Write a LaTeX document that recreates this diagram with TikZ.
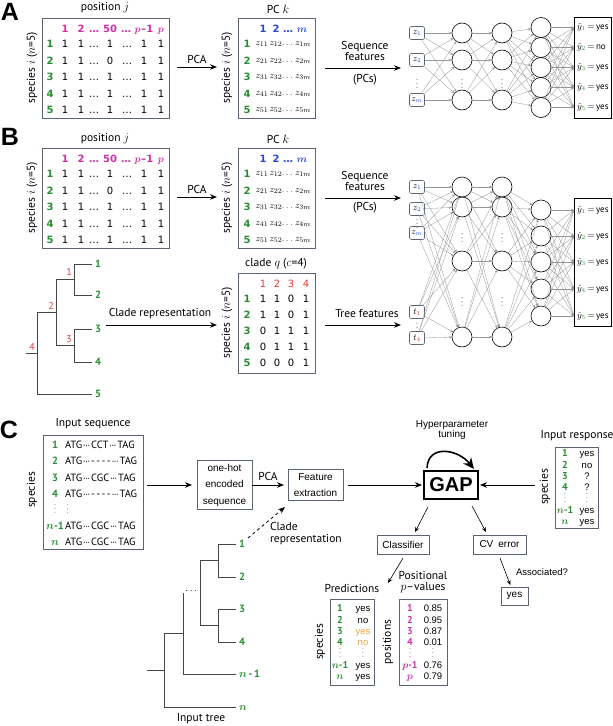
\documentclass[tikz,border=0pt]{standalone}
\usepackage{amsmath}
\usepackage{bm}
\usepackage{fontspec}
\setmainfont{PT Sans}
\newfontfamily\arialfont{Liberation Sans}
\newfontfamily\verafont{DejaVu Sans}
\usetikzlibrary{arrows.meta}

\definecolor{spgreen}{RGB}{40,140,50}
\definecolor{posmag}{RGB}{205,50,165}
\definecolor{pcblue}{RGB}{40,70,215}
\definecolor{cladered}{RGB}{225,60,60}
\definecolor{predorange}{RGB}{235,165,55}
\definecolor{boxgray}{RGB}{90,100,115}
\definecolor{netgray}{RGB}{150,150,150}
\definecolor{treegray}{RGB}{70,70,70}

% compact centred ellipsis used inside the sequences
\newcommand{\sdots}{\kern0.8pt${\cdotp}\kern-0.9pt{\cdotp}\kern-0.9pt{\cdotp}$\kern0.8pt}
% small vertical ellipsis for list rows
\newcommand{\sv}{{\fontsize{6}{6}\selectfont$\vdots$}}

% species x positions binary matrix: #1 node name, #2 top edge
\newcommand{\sitematrix}[2]{%
  \node[frame,minimum width=127pt,minimum height=100pt] (#1) at (42,#2) {};
  \foreach \x/\cellt in {65/1,81/2,94/…,110/50,126/…,144/{$\bm{p}$\kern0.4pt–\kern0.2pt1},161/{$\bm{p}$}}
    \node[cell,bnum,text=posmag] at (\x,#2+11) {\cellt};
  \foreach \cellv [count=\k] in {1,0,1,1,1} {
    \pgfmathsetmacro\yy{#2+26+16.5*(\k-1)}
    \node[cell,rowlab] at (50,\yy) {\k};
    \foreach \x/\cellt in {65/1,81/1,94/…,110/\cellv,127/…,144/1,161/1}
      \node[cell,num] at (\x,\yy) {\cellt};
  }%
}
% species x principal components matrix: #1 node name, #2 top edge
\newcommand{\pcmatrix}[2]{%
  \node[frame,minimum width=77pt,minimum height=100pt] (#1) at (238,#2) {};
  \foreach \x/\cellt in {263/1,276/2,288/…,302/{$\bm{m}$}}
    \node[cell,bnum,text=pcblue] at (\x,#2+11) {\cellt};
  \foreach \k in {1,...,5} {
    \pgfmathsetmacro\yy{#2+26+16.5*(\k-1)}
    \node[cell,rowlab] at (247,\yy) {\k};
    \node[zent] at (262,\yy) {$z_{\k1}$};
    \node[zent] at (276,\yy) {$z_{\k2}$};
    \node[zent] at (288,\yy) {$\dots$};
    \node[zent] at (303,\yy) {$z_{\k m}$};
  }%
}

\begin{document}
\begin{tikzpicture}[x=1pt,y=-1pt,
  every node/.style={inner sep=0pt,outer sep=0pt},
  lab/.style={font=\fontsize{11.5}{11}\selectfont},
  sp/.style={lab,rotate=90},
  panel/.style={font=\arialfont\bfseries\fontsize{25}{25}\selectfont},
  frame/.style={draw=boxgray,line width=0.9pt,anchor=north west},
  cbox/.style={draw=boxgray,line width=0.9pt},
  cell/.style={text height=7.3pt,text depth=0pt},
  num/.style={font=\verafont\fontsize{10}{12}\selectfont},
  bnum/.style={font=\verafont\bfseries\fontsize{10}{12}\selectfont},
  rowlab/.style={bnum,text=spgreen},
  zent/.style={font=\fontsize{9.5}{11}\selectfont,text height=4.5pt,text depth=1.5pt},
  arr/.style={-{Stealth[length=7pt,width=5.5pt]},line width=0.8pt},
  thinarr/.style={-{Stealth[length=5pt,width=4pt]},line width=0.6pt},
  neuron/.style={circle,draw,line width=0.6pt,minimum size=20pt},
  inbox/.style={draw=boxgray,rounded corners=2pt,minimum width=15pt,minimum height=13pt,line width=0.6pt,font=\fontsize{9}{9}\selectfont},
  conn/.style={draw=netgray,line width=0.3pt,-{Stealth[length=3pt,width=2.4pt]}},
  outbox/.style={draw,line width=1pt,anchor=north west,minimum width=37pt},
  ylab/.style={anchor=west,font=\fontsize{9}{9}\selectfont,text height=6.5pt,text depth=2pt},
  vd/.style={font=\fontsize{7}{7}\selectfont},
  tree/.style={draw=treegray,line width=0.8pt},
  leaf/.style={anchor=west,font=\bfseries\fontsize{10.5}{11}\selectfont,text=spgreen,text height=7.5pt,text depth=0pt},
  clade/.style={font=\fontsize{10}{11}\selectfont,text=cladered},
  ctext/.style={text height=7.5pt,text depth=0pt},
  clab/.style={ctext,font=\bfseries\fontsize{10.5}{12}\selectfont,text=spgreen},
  seqtxt/.style={ctext,anchor=west,font=\fontsize{10.5}{12}\selectfont},
  atxt/.style={font=\arialfont\fontsize{10}{16.5}\selectfont},
  vtxt/.style={ctext,font=\arialfont\fontsize{9.5}{11}\selectfont},
  hyper/.style={line width=1.6pt,-{Stealth[length=11pt,width=10pt]}}
]
\useasboundingbox (0,0) rectangle (613,726);

%% ---------------- A ----------------
\node[panel] (pA) at (10,12) {A};
\node[lab] (posA) at (105,8) {position $j$};
\sitematrix{A1}{18}
\node[sp] (spA1) at (32,68) {species $i$ ($n$=5)};
\coordinate (pcaA0) at (177,67);
\coordinate (pcaA1) at (217,67);
\draw[arr] (pcaA0) -- (pcaA1);
\node[lab] (pcaAl) at (197,59) {PCA};
\node[lab] (pckA) at (278,9) {PC $k$};
\pcmatrix{A2}{18}
\node[sp] (spA2) at (227,68) {species $i$ ($n$=5)};
\coordinate (sfA0) at (325,68);
\coordinate (sfA1) at (401,68);
\draw[arr] (sfA0) -- (sfA1);
\node[lab,align=center] (sfAl) at (365,51) {Sequence\\features};
\node[lab] (pcsA) at (365,80) {(PCs)};

% network A
\foreach \n/\y/\cellt in {1/33/{z_{\color{pcblue}1}},2/60/{z_{\color{pcblue}2}},3/100/{z_{\color{pcblue}m}}}
  \node[inbox] (Ai\n) at (417,\y) {$\cellt$};
\foreach \n/\y in {1/33,2/60,3/100} {
  \node[neuron] (Aa\n) at (462,\y) {};
  \node[neuron] (Ab\n) at (502,\y) {};
}
\foreach \n/\y in {1/27.5,2/47.5,3/67.5,4/87.5,5/107.5}
  \node[neuron] (Ac\n) at (541,\y) {};
\node[outbox,minimum height=101pt] (Aout) at (574,17) {};
\foreach \n/\y/\ans in {1/27.5/yes,2/47.5/no,3/67.5/yes,4/87.5/yes,5/107.5/yes} {
  \coordinate (Ao\n) at (574,\y);
  \node[ylab] at (577,\y) {$\hat{y}_{\color{spgreen}\n}\,{=}\,\mathrm{\ans}$};
}
\foreach \x in {417,462,502} \node[vd] at (\x,81) {$\vdots$};
\foreach \i in {1,2,3} \foreach \j in {1,2,3} {
  \draw[conn] (Ai\i) -- (Aa\j);
  \draw[conn] (Aa\i) -- (Ab\j);
}
\foreach \i in {1,2,3} \foreach \j in {1,...,5} \draw[conn] (Ab\i) -- (Ac\j);
\foreach \i in {1,...,5} \foreach \j in {1,...,5} \draw[conn] (Ac\i) -- (Ao\j);

%% ---------------- B ----------------
\node[panel] (pB) at (10,137) {B};
\node[lab] (posB) at (105,139) {position $j$};
\sitematrix{B1}{148}
\node[sp] (spB1) at (32,198) {species $i$ ($n$=5)};
\coordinate (pcaB0) at (177,197);
\coordinate (pcaB1) at (217,197);
\draw[arr] (pcaB0) -- (pcaB1);
\node[lab] (pcaBl) at (197,189) {PCA};
\node[lab] (pckB) at (278,139) {PC $k$};
\pcmatrix{B2}{148}
\node[sp] (spB2) at (227,198) {species $i$ ($n$=5)};
\coordinate (sfB0) at (325,198);
\coordinate (sfB1) at (401,198);
\draw[arr] (sfB0) -- (sfB1);
\node[lab,align=center] (sfBl) at (365,181) {Sequence\\features};
\node[lab] (pcsB) at (365,208) {(PCs)};

% clade matrix
\node[lab] (cladeq) at (276,264) {clade $q$ ($c$=4)};
\node[frame,minimum width=77pt,minimum height=100pt] (B3) at (238,273) {};
\foreach \x/\cellt in {263/1,277/2,291/3,306/4}
  \node[cell,num,text=cladered] at (\x,284) {\cellt};
\foreach \ca/\cb/\cc/\cd [count=\k] in {1/1/0/1,1/1/0/1,0/1/1/1,0/1/1/1,0/0/0/1} {
  \pgfmathsetmacro\yy{273+26+16*(\k-1)}
  \node[cell,rowlab] at (247,\yy) {\k};
  \node[cell,num] at (263,\yy) {\ca};
  \node[cell,num] at (277,\yy) {\cb};
  \node[cell,num] at (291,\yy) {\cc};
  \node[cell,num] at (306,\yy) {\cd};
}
\node[sp] (spB3) at (227,323) {species $i$ ($n$=5)};

% tree B
\draw[tree] (74,264) -- (92,264) (74,295) -- (92,295) (74,264) -- (74,295);
\draw[tree] (74,329) -- (92,329) (74,362) -- (92,362) (74,329) -- (74,362);
\draw[tree] (56,279.5) -- (74,279.5) (56,345.5) -- (74,345.5) (56,279.5) -- (56,345.5);
\draw[tree] (37,312.5) -- (56,312.5) (37,312.5) -- (37,394) (37,394) -- (92,394);
\draw[tree] (26,353) -- (37,353);
\foreach \n/\y in {1/264,2/295,3/329,4/362,5/394}
  \node[leaf] (Bl\n) at (95,\y) {\n};
\node[clade] (cl1) at (69,272) {1};
\node[clade] (cl2) at (51,306) {2};
\node[clade] (cl3) at (69,339) {3};
\node[clade] (cl4) at (32,347) {4};
\coordinate (crB0) at (106,325);
\coordinate (crB1) at (217,325);
\draw[arr] (crB0) -- (crB1);
\node[lab] (crBl) at (160,314) {Clade representation};
\coordinate (tfB0) at (325,325);
\coordinate (tfB1) at (401,325);
\draw[arr] (tfB0) -- (tfB1);
\node[lab] (tfBl) at (367,314) {Tree features};

% network B
\foreach \n/\y/\cellt in {1/187/{z_{\color{pcblue}1}},2/209/{z_{\color{pcblue}2}},3/233/{z_{\color{pcblue}m}},4/312/{t_{\color{cladered}1}},5/338/{t_{\color{cladered}4}}}
  \node[inbox] (Bi\n) at (417,\y) {$\cellt$};
\foreach \n/\y in {1/187,2/207,3/261,4/337} {
  \node[neuron] (Ba\n) at (462,\y) {};
  \node[neuron] (Bb\n) at (502,\y) {};
}
\foreach \n/\y in {1/210,2/236,3/262,4/289,5/316}
  \node[neuron] (Bc\n) at (541,\y) {};
\node[outbox,minimum height=128pt] (Bout) at (574,198) {};
\foreach \n/\y in {1/210,2/236,3/262,4/289,5/316} {
  \coordinate (Bo\n) at (574,\y);
  \node[ylab] at (577,\y) {$\hat{y}_{\color{spgreen}\n}\,{=}\,\mathrm{yes}$};
}
\node[vd] at (417,221) {$\vdots$};
\node[vd] at (417,325) {$\vdots$};
\foreach \x in {462,502} {
  \node[vd] at (\x,235) {$\vdots$};
  \node[vd] at (\x,299) {$\vdots$};
}
\foreach \i in {1,...,5} \foreach \j in {1,...,4} \draw[conn] (Bi\i) -- (Ba\j);
\foreach \i in {1,...,4} \foreach \j in {1,...,4} \draw[conn] (Ba\i) -- (Bb\j);
\foreach \i in {1,...,4} \foreach \j in {1,...,5} \draw[conn] (Bb\i) -- (Bc\j);
\foreach \i in {1,...,5} \foreach \j in {1,...,5} \draw[conn] (Bc\i) -- (Bo\j);

%% ---------------- C ----------------
\node[panel] (pC) at (9,430) {C};
\node[lab] (inseq) at (93,424) {Input sequence};
\node[cbox,anchor=north west,minimum width=100pt,minimum height=114pt] (seq) at (43,435) {};
\foreach \lbl/\sq [count=\k] in {
  1/{ATG\sdots CCT\sdots TAG},
  2/{ATG\sdots-\kern1.5pt-\kern1.5pt-\kern1.5pt-\sdots TAG},
  3/{ATG\sdots CGC\sdots TAG},
  4/{ATG\sdots-\kern1.5pt-\kern1.5pt-\kern1.5pt-\sdots TAG},
  {\sv}/{\kern2pt\sv},
  {$\bm{n}$-1}/{ATG\sdots CGC\sdots TAG},
  {$\bm{n}$}/{ATG\sdots CGC\sdots TAG}} {
  \pgfmathsetmacro\yy{445+16.2*(\k-1)}
  \node[clab] at (55,\yy) {\lbl};
  \node[seqtxt] at (65,\yy) {\sq};
}
\node[sp] (spC) at (32,490) {species};

\node[cbox,minimum width=55pt,minimum height=49pt,atxt,align=center] (onehot) at (224.5,485) {one-hot\\encoded\\sequence};
\node[cbox,minimum width=55pt,minimum height=31pt,align=center,font=\arialfont\fontsize{10}{16}\selectfont] (feat) at (315.5,485) {Feature\\extraction};
\node[draw,line width=1.2pt,minimum width=54pt,minimum height=28pt,font=\arialfont\bfseries\fontsize{20}{20}\selectfont] (GAP) at (451,485) {GAP};
\coordinate (seqout) at (147,485);
\draw[arr,shorten >=5pt] (seqout) -- (onehot);
\draw[arr,shorten >=4pt] (onehot) -- (feat);
\node[lab] (pcaC) at (268,476) {PCA};
\draw[arr,shorten <=5pt,shorten >=2pt] (feat) -- (GAP);

% hyperparameter loop
\node[font=\arialfont\fontsize{10}{9.5}\selectfont,align=center] (hyp) at (452,430) {Hyperparameter\\tuning};
\draw[hyper] ([xshift=3pt,yshift=3pt]GAP.north west) .. controls +(1,-24) and +(-16,-20) .. ([xshift=-4pt,yshift=2pt]GAP.north east);

% input response
\node[lab] (inresp) at (577,436) {Input response};
\node[cbox,anchor=north west,minimum width=43pt,minimum height=81pt] (resp) at (555,447) {};
\foreach \lbl/\val [count=\k] in {1/yes,2/no,3/?,4/?,{\sv}/{\sv},{$\bm{n}$-1}/yes,{$\bm{n}$}/yes} {
  \pgfmathsetmacro\yy{453+11.33*(\k-1)}
  \node[clab,font=\bfseries\fontsize{10}{11}\selectfont] at (565,\yy) {\lbl};
  \node[vtxt] at (587,\yy) {\val};
}
\node[sp] (spR) at (545,487) {species};
\coordinate (respout) at (535,485);
\draw[arr,shorten >=2pt] (respout) -- (GAP);

% outputs of GAP
\node[cbox,minimum width=52pt,minimum height=19pt,font=\arialfont\fontsize{10}{11}\selectfont] (clf) at (403,544.5) {Classifier};
\node[cbox,minimum width=53pt,minimum height=19pt,font=\arialfont\fontsize{10}{11}\selectfont] (cv) at (499.5,544.5) {CV\hspace{5pt}error};
\coordinate (g2c0) at (428,507);
\coordinate (g2c1) at (415,532);
\coordinate (g2v0) at (472,506);
\coordinate (g2v1) at (486,532);
\draw[thinarr] (g2c0) -- (g2c1);
\draw[thinarr] (g2v0) -- (g2v1);
\coordinate (c2p0) at (403,558);
\coordinate (c2p1) at (388,583);
\draw[thinarr] (c2p0) -- (c2p1);
\node[cbox,minimum width=27pt,minimum height=18pt,font=\arialfont\fontsize{10}{11}\selectfont] (assoc) at (514.5,596) {yes};
\coordinate (v2y0) at (500,558);
\draw[thinarr,shorten >=2pt] (v2y0) -- (assoc);
\node[font=\arialfont\fontsize{9.5}{11}\selectfont] (assocl) at (542,572) {Associated?};

% predictions
\node[lab] (predl) at (352,588) {Predictions};
\node[cbox,anchor=north west,minimum width=44pt,minimum height=86pt] (pred) at (330,599) {};
\foreach \lbl/\val [count=\k] in {1/yes,2/no,3/{\color{predorange}yes},4/{\color{predorange}no},{\sv}/{\sv},{$\bm{n}$-1}/yes,{$\bm{n}$}/yes} {
  \pgfmathsetmacro\yy{608+11.33*(\k-1)}
  \node[clab,font=\bfseries\fontsize{10}{11}\selectfont] at (340,\yy) {\lbl};
  \node[vtxt] at (363,\yy) {\val};
}
\node[sp] (spP) at (320,642) {species};

% positional p-values
\node[lab,align=center] (pvl) at (423,582) {Positional\\$p$–values};
\node[cbox,anchor=north west,minimum width=48pt,minimum height=86pt] (pval) at (399,599) {};
\foreach \lbl/\val [count=\k] in {1/0.85,2/0.95,3/0.87,4/0.01,{\sv}/{\sv},{$\bm{p}$-1}/0.76,{$\bm{p}$}/0.79} {
  \pgfmathsetmacro\yy{608+11.33*(\k-1)}
  \node[clab,font=\bfseries\fontsize{10}{11}\selectfont,text=posmag] at (410,\yy) {\lbl};
  \node[vtxt] at (433,\yy) {\val};
}
\node[sp] (spPos) at (388,642) {positions};

% input tree
\draw[tree] (218,544) -- (236,544) (218,577) -- (236,577) (218,544) -- (218,577);
\draw[tree] (218,609) -- (236,609) (218,642) -- (236,642) (218,609) -- (218,642);
\draw[tree] (200,560.5) -- (218,560.5) (200,625.5) -- (218,625.5) (200,560.5) -- (200,625.5);
\draw[tree] (183,593) -- (183,674) (183,674) -- (236,674);
\draw[tree] (164,633.5) -- (183,633.5) (164,633.5) -- (164,707) (164,707) -- (236,707);
\draw[tree] (147,670) -- (164,670);
\node[font=\bfseries\fontsize{10}{10}\selectfont] (tdots) at (192,591) {$\cdots$};
\foreach \n/\y/\lbl in {1/544/1,2/577/2,3/609/3,4/642/4,5/674/{$\bm{n}$\,-\,1},6/707/{$\bm{n}$}}
  \node[leaf] (Cl\n) at (239,\y) {\lbl};
\node[lab] (intree) at (201,719) {Input tree};
\coordinate (crC0) at (248,538);
\coordinate (crC1) at (285,507);
\draw[arr,dashed] (crC0) -- (crC1);
\node[lab,anchor=west,align=left,font=\fontsize{11.5}{12}\selectfont] (crCl) at (270,534) {Clade\\representation};
\end{tikzpicture}
\end{document}
